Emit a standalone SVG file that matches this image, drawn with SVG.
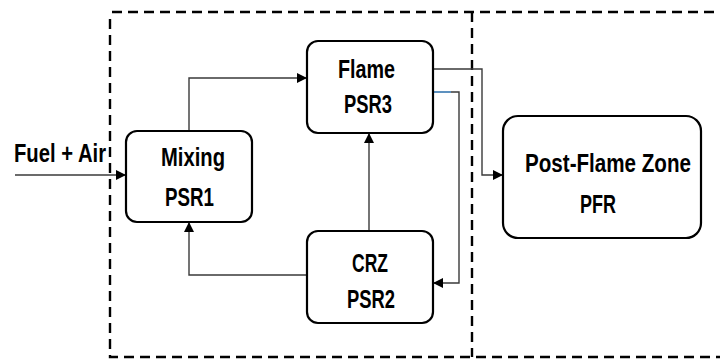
<svg xmlns="http://www.w3.org/2000/svg" width="720" height="359" viewBox="0 0 720 359">
<defs>
<style>
.box{fill:#fff;stroke:#000;stroke-width:2.2}
.dash{fill:none;stroke:#000;stroke-width:2.4;stroke-dasharray:10 6}
.con{fill:none;stroke:#3a3a3a;stroke-width:1.4}
.lbl{font-family:"Liberation Sans",Arial,sans-serif;font-weight:bold;font-size:20px;fill:#000}
</style>
<marker id="ah" viewBox="0 0 10 10" refX="10" refY="5" markerWidth="11" markerHeight="10" markerUnits="userSpaceOnUse" orient="auto">
<path d="M0,0 L10,5 L0,10 Z" fill="#000"/>
</marker>
</defs>
<rect width="720" height="359" fill="#fff"/>
<g id="zones">
<path class="dash" d="M112,12 H720"/>
<path class="dash" d="M110,19 V357 H720"/>
<path class="dash" d="M472,12 V357"/>
</g>
<g id="connectors">
<path class="con" d="M15,175 H126" marker-end="url(#ah)"/>
<path class="con" d="M189,131 V78 H307" marker-end="url(#ah)"/>
<path class="con" d="M307,275 H189 V222" marker-end="url(#ah)"/>
<path class="con" d="M369,231 V133" marker-end="url(#ah)"/>
<path class="con" d="M433,69 H482 V175 H503" marker-end="url(#ah)"/>
<path class="con" d="M433,92 H459 V283 H433" marker-end="url(#ah)"/>
<path d="M433,92 H451" stroke="#5b9bd5" stroke-width="1.6" fill="none"/>
</g>
<g id="input">
<text class="lbl" transform="translate(14,162) scale(1,1.32)" textLength="92" lengthAdjust="spacingAndGlyphs">Fuel + Air</text>
</g>
<g id="mixing">
<rect class="box" x="126" y="131" width="126" height="91" rx="11"/>
<text class="lbl" transform="translate(161,166) scale(1,1.32)" textLength="64" lengthAdjust="spacingAndGlyphs">Mixing</text>
<text class="lbl" transform="translate(165,206) scale(1,1.32)" textLength="49" lengthAdjust="spacingAndGlyphs">PSR1</text>
</g>
<g id="flame">
<rect class="box" x="307" y="41" width="126" height="92" rx="11"/>
<text class="lbl" transform="translate(338,78) scale(1,1.32)" textLength="57" lengthAdjust="spacingAndGlyphs">Flame</text>
<text class="lbl" transform="translate(344,113) scale(1,1.32)" textLength="48" lengthAdjust="spacingAndGlyphs">PSR3</text>
</g>
<g id="crz">
<rect class="box" x="307" y="231" width="126" height="92" rx="11"/>
<text class="lbl" transform="translate(352,272) scale(1,1.32)" textLength="36" lengthAdjust="spacingAndGlyphs">CRZ</text>
<text class="lbl" transform="translate(347,308) scale(1,1.32)" textLength="48" lengthAdjust="spacingAndGlyphs">PSR2</text>
</g>
<g id="pfr">
<rect class="box" x="503" y="116" width="198" height="122" rx="15"/>
<text class="lbl" transform="translate(525,172) scale(1,1.32)" textLength="166" lengthAdjust="spacingAndGlyphs">Post-Flame Zone</text>
<text class="lbl" transform="translate(580,213) scale(1,1.32)" textLength="36" lengthAdjust="spacingAndGlyphs">PFR</text>
</g>
</svg>
